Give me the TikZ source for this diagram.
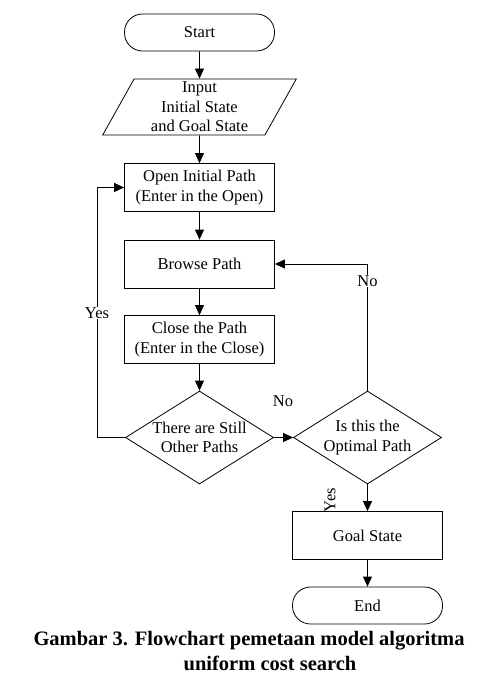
\documentclass[tikz,border=0pt]{standalone}
\usepackage{fontspec}
\setmainfont{Liberation Serif}
\usetikzlibrary{arrows.meta,positioning,calc,shapes.geometric}

\begin{document}
\begin{tikzpicture}[x=1pt, y=-1pt,
  font=\fontsize{16.5}{19.5}\selectfont,
  terminal/.style={rectangle, rounded corners=18pt, draw=black, line width=0.8pt, minimum width=150pt, minimum height=37pt},
  io/.style={trapezium, trapezium left angle=65, trapezium right angle=115, trapezium stretches=true, draw=black, line width=0.8pt, minimum width=194pt, minimum height=56pt, inner sep=0pt, align=center},
  process/.style={rectangle, draw=black, line width=0.8pt, minimum width=150pt, minimum height=48pt, align=center},
  decision/.style={diamond, draw=black, line width=0.8pt, minimum width=148pt, minimum height=93pt, aspect=1.6, inner sep=0pt, align=center},
  flow/.style={line width=0.8pt, -{Triangle[length=10pt, width=9pt]}},
  caption/.style={font=\fontsize{20.5}{22}\selectfont\bfseries}]
  \useasboundingbox (0,0) rectangle (496,687);

  \node (start) [terminal] at (199.5,32.5) {Start};
  \node (input) [io] at (199.5,107) {Input\\Initial State\\and Goal State};
  \node (open) [process] at (199.5,187.5) {Open Initial Path\\(Enter in the Open)};
  \node (browse) [process] at (199.5,264) {Browse Path};
  \node (close) [process] at (199.5,339.5) {Close the Path\\(Enter in the Close)};
  \node (still) [decision] at (199.5,437.5) {There are Still\\Other Paths};

  \node (optimal) [decision] at (367.5,437.5) {Is this the\\Optimal Path};
  \node (goal) [process] at (367.5,535.5) {Goal State};
  \node (end) [terminal] at (367.5,605.5) {End};

  \coordinate (yesturn) at (97,437.5);

  \path [flow]
  (start) edge (input)
  (input) edge (open)
  (open) edge (browse)
  (browse) edge (close)
  (close) edge (still)
  (still) edge (optimal)
  (optimal) edge (goal)
  (goal) edge (end);

  % loops back
  \draw [flow] (still.west) -- (yesturn) |- (open.west);
  \draw [flow] (optimal.north) |- (browse.east);

  \node (yesleft) [fill=white, inner sep=1pt] at (97,313) {Yes};
  \node (notop) [fill=white, inner sep=1pt] at (367.5,281) {No};
  \node (nomid) at (283,401) {No};
  \node (yesdown) [rotate=90] at (330,500) {Yes};

  \node (cap1) [caption] at (249,641) {Gambar 3. Flowchart pemetaan model algoritma};
  \node (cap2) [caption] at (270,663) {uniform cost search};
\end{tikzpicture}
\end{document}
